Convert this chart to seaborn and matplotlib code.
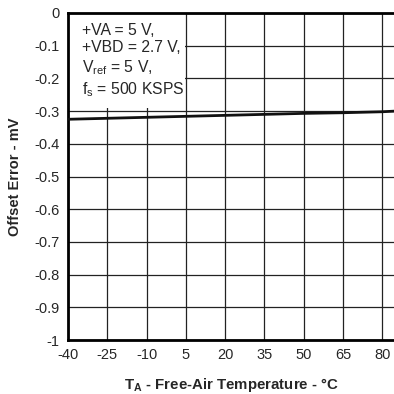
import pandas as pd
import matplotlib.pyplot as plt
import matplotlib.patches as mpatches
import seaborn as sns

# data
temps = [-40, -25, -10, 5, 20, 35, 50, 65, 80, 85]
offset_mv = [-0.325, -0.322, -0.319, -0.316, -0.313, -0.310, -0.307, -0.305, -0.302, -0.300]
x_ticks = [-40, -25, -10, 5, 20, 35, 50, 65, 80]
y_ticks = [0, -0.1, -0.2, -0.3, -0.4, -0.5, -0.6, -0.7, -0.8, -0.9, -1]
y_tick_labels = ['0', '-0.1', '-0.2', '-0.3', '-0.4', '-0.5', '-0.6', '-0.7', '-0.8', '-0.9', '-1']

df = pd.DataFrame({'temp': temps, 'offset': offset_mv})

sns.set_style('white')
plt.rcParams['font.family'] = ['Liberation Sans', 'DejaVu Sans']

fig = plt.figure(figsize=(3.94, 3.94), dpi=100)
ax = fig.add_axes([68 / 394, 1 - 340 / 394, 1 - 68 / 394, 327 / 394])

sns.lineplot(data=df, x='temp', y='offset', color='#111111', linewidth=2, ax=ax, zorder=3)

ax.set_xlim(-40, 84.5)
ax.set_ylim(-1, 0)
ax.set_xticks(x_ticks)
ax.set_xticklabels([str(t) for t in x_ticks], fontsize=10.5)
ax.set_yticks(y_ticks)
ax.set_yticklabels(y_tick_labels, fontsize=10.5)
ax.set_axisbelow(True)
ax.grid(True, color='#222222', linewidth=0.9)
ax.tick_params(axis='both', direction='out', length=4, width=0.9, color='#222222', pad=2)

for side in ['left', 'bottom', 'top']:
    ax.spines[side].set_linewidth(2)
    ax.spines[side].set_color('black')
ax.spines['right'].set_visible(False)

ax.set_xlabel('T$_\\mathregular{A}$ - Free-Air Temperature - °C', fontsize=10.8, fontweight='bold', labelpad=10)
ax.set_ylabel('Offset Error - mV', fontsize=10.5, fontweight='bold', labelpad=9)

# condition box (white background hides grid)
ax.add_patch(mpatches.Rectangle((0, 0.71), 0.36, 0.29, transform=ax.transAxes,
                                facecolor='white', edgecolor='none', zorder=1))
ax.text(0.042, 0.97,
        '+VA = 5 V,\n+VBD = 2.7 V,\nV$_\\mathregular{ref}$ = 5 V,\nf$_\\mathregular{s}$ = 500 KSPS',
        transform=ax.transAxes, fontsize=11.3, va='top', ha='left', linespacing=1.22, zorder=2)

plt.savefig('out.png', dpi=100)
